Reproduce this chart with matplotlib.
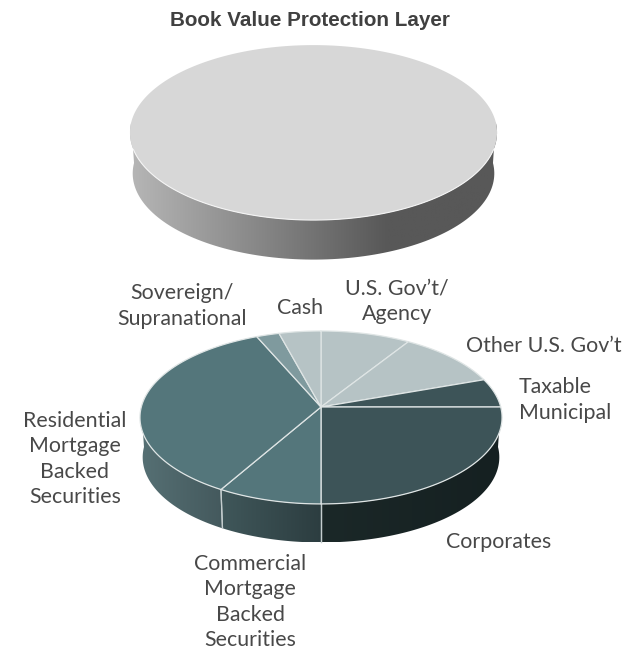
#Two 3D looking pies, one plain and one with the sector split
import numpy as np
import matplotlib
matplotlib.use("Agg")
import matplotlib.pyplot as plt
from matplotlib.colors import LinearSegmentedColormap
from matplotlib.patches import Polygon

title = "Book Value Protection Layer"
sectors = ["U.S. Gov\u2019t/\nAgency", "Other U.S. Gov\u2019t", "Taxable\nMunicipal", "Corporates",
           "Commercial\nMortgage\nBacked\nSecurities", "Residential\nMortgage\nBacked\nSecurities",
           "Sovereign/\nSupranational", "Cash"]
values = [9.0, 10.6, 5.4, 25.0, 8.3, 35.2, 2.3, 4.2]
colors = ["#b6c3c5", "#b6c3c5", "#3d5458", "#3d5458", "#54767b", "#54767b", "#7f9a9e", "#b6c3c5"]
# wall gradient per slice, left to right
wall_colors = [None, None, None, ["#1b2828", "#152021"], ["#40575a", "#2c3d40"], ["#567074", "#44595d"], None, None]
label_xy = [(397, 301), (544, 346), (519, 400), (499, 542), (250, 602), (75, 459), (182, 306), (300, 308)]
label_ha = ["center", "center", "left", "center", "center", "center", "center", "center"]

fig = plt.figure(figsize=(6.36, 6.52), dpi=100)
ax = fig.add_axes([0, 0, 1, 1])


def rim(frac, cx, cy, a, b, k, shrink=1.0, drop=0):
    # fraction clockwise from the top, through a small perspective
    t = 2 * np.pi * np.asarray(frac)
    x, z = np.sin(t), np.cos(t)
    s = 1 / (1 + k * z)
    return cx + shrink * b * x * s, cy - shrink * a * z * s + drop


def grad_fill(xs, ys, stops):
    cmap = LinearSegmentedColormap.from_list("w", stops)
    im = ax.imshow(np.linspace(0, 1, 256).reshape(1, -1), cmap=cmap, aspect="auto",
                   extent=[xs.min(), xs.max(), ys.max(), ys.min()], zorder=1)
    im.set_clip_path(Polygon(np.column_stack([xs, ys]), transform=ax.transData))


def wall(f0, f1, stops, geo, depth):
    f = np.linspace(f0, f1, 120)
    x0, y0 = rim(f, *geo)
    x1, y1 = rim(f, *geo, shrink=0.985, drop=depth)
    grad_fill(np.r_[x0, x1[::-1]], np.r_[y0, y1[::-1]], stops)


# plain pie on top
geo_top = (313.5, 122, 86.2, 182.2, 0.121)
wall(0.75, 0.25, [(0, "#b6b6b6"), (0.7, "#585858"), (1, "#585858")], geo_top, 41)
f = np.linspace(0, 1, 400)
xt, yt = rim(f, *geo_top)
ax.fill(xt, yt, color="#d7d7d7", ec="none", zorder=3)
f = np.linspace(0.3, 0.7, 100)
xt, yt = rim(f, *geo_top)
ax.plot(xt, yt, color="#f4f4f4", lw=0.8, zorder=4)

# split pie below
geo = (321, 407, 85.2, 179.7, 0.121)
depth = 40
edges = np.cumsum([0] + values) / sum(values)
for i in range(len(values)):
    f0, f1 = edges[i], edges[i + 1]
    if wall_colors[i] is None:
        continue
    # walls only show on the front half
    a, b = max(f0, 0.25), min(f1, 0.75)
    wall(b, a, wall_colors[i], geo, depth)
    for e in [f0, f1]:
        if 0.25 < e < 0.75:
            xe, ye = rim(e, *geo)
            xd, yd = rim(e, *geo, shrink=0.985, drop=depth)
            ax.plot([xe, xd], [ye, yd], color="#c4cdce", lw=0.9, zorder=2)

for i in range(len(values)):
    f = np.linspace(edges[i], edges[i + 1], 80)
    xs, ys = rim(f, *geo)
    xs = np.r_[geo[0], xs]
    ys = np.r_[geo[1], ys]
    ax.fill(xs, ys, color=colors[i], ec="#dfe5e5", lw=0.9, zorder=3, joinstyle="round")

for name, (lx, ly), ha in zip(sectors, label_xy, label_ha):
    ax.text(lx, ly, name, ha=ha, va="center", fontsize=15.4, color="#484848",
            linespacing=1.33, family=["Lato", "DejaVu Sans"], zorder=5)

ax.text(310, 21, title, ha="center", va="center", fontsize=14.9, fontweight="bold", color="#404040",
        family=["Liberation Sans Narrow", "Liberation Sans"], zorder=5)

ax.set_xlim(0, 636)
ax.set_ylim(652, 0)
ax.axis("off")
fig.savefig("out.png", dpi=100)
